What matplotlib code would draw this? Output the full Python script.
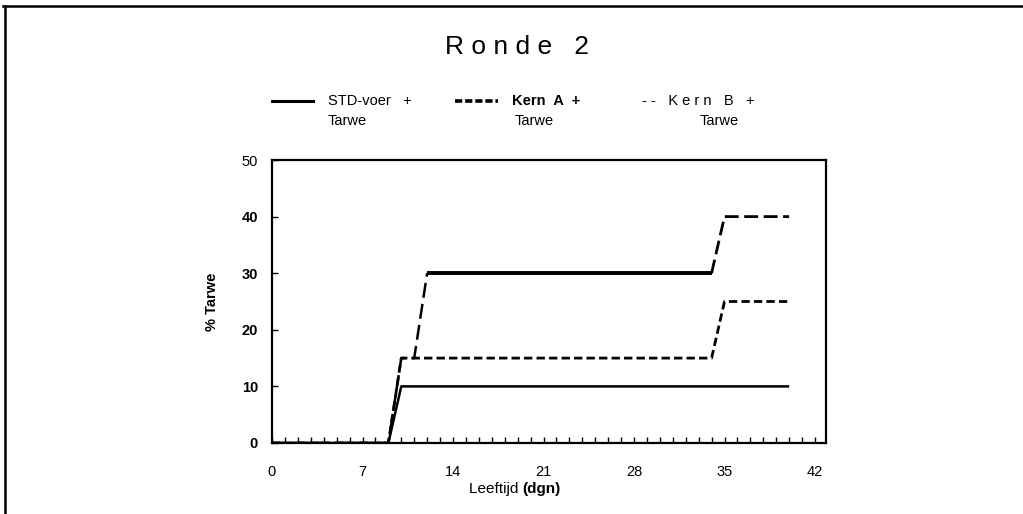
import matplotlib
matplotlib.use("Agg")
import matplotlib.pyplot as plt
from matplotlib.lines import Line2D

# Data
days_std = [0, 9, 10, 40]
std_voer = [0, 0, 10, 10]
days_a = [0, 9, 10, 34, 35, 40]
kern_a = [0, 0, 15, 15, 25, 25]
days_b = [0, 9, 10, 11, 12, 34, 35, 40]
kern_b = [0, 0, 15, 15, 30, 30, 40, 40]
xticks = [0, 7, 14, 21, 28, 35, 42]
yticks = [0, 10, 20, 30, 40, 50]

plt.rcParams['font.family'] = ['Liberation Sans', 'DejaVu Sans']

fig = plt.figure(figsize=(10.23, 5.14), dpi=100)
ax = fig.add_axes([272/1023, 71/514, (826-272)/1023, (443-160)/514])

ax.plot(days_std, std_voer, color='black', lw=1.8, solid_capstyle='butt')
ax.plot(days_a, kern_a, color='black', lw=2.0, dashes=(3, 1.5))
# Kern B: dashed rises, solid plateau at 30
ax.plot(days_b[:5], kern_b[:5], color='black', lw=1.8, dashes=(6, 2.5))
ax.plot(days_b[4:6], kern_b[4:6], color='black', lw=2.8, solid_capstyle='butt')
ax.plot(days_b[5:], kern_b[5:], color='black', lw=2.0, dashes=(5, 2))

ax.set_xlim(0, 42.85)
ax.set_ylim(0, 50)
ax.set_xticks(xticks)
ax.set_xticks(range(0, 43), minor=True)
ax.set_yticks(yticks)
ax.set_xticklabels([str(t) for t in xticks], fontsize=10.5)
ax.set_yticklabels([str(t) for t in yticks], fontsize=10.5)
for lbl in ax.get_yticklabels():
    if lbl.get_text() != '50':
        lbl.set_fontweight('bold')
ax.tick_params(axis='both', which='both', direction='in', length=4, width=1)
ax.tick_params(axis='y', which='major', pad=10)
ax.tick_params(axis='x', which='major', pad=16)
for s in ax.spines.values():
    s.set_linewidth(1.6)

ax.set_ylabel('% Tarwe', fontsize=10.5, fontweight='bold', labelpad=16)
fig.text(0.5105, 0.048, 'Leeftijd ', ha='right', va='center', fontsize=11)
fig.text(0.5105, 0.048, '(dgn)', ha='left', va='center', fontsize=11, fontweight='bold')

# Title
fig.text(0.505, 0.908, 'R o n d e   2', ha='center', va='center', fontsize=19)

# Legend (manual)
def ly(y):
    return (514 - y) / 514
def lx(x):
    return x / 1023
fig.add_artist(Line2D([lx(272), lx(313)], [ly(101), ly(101)], color='black', lw=2.2, transform=fig.transFigure))
fig.add_artist(Line2D([lx(455), lx(498)], [ly(101), ly(101)], color='black', lw=2.6, dashes=(2, 0.8), transform=fig.transFigure))
fig.text(lx(328), ly(101), 'STD-voer   +', ha='left', va='center', fontsize=10.5)
fig.text(lx(328), ly(121), 'Tarwe', ha='left', va='center', fontsize=10.5)
fig.text(lx(512), ly(101), 'Kern  A  +', ha='left', va='center', fontsize=10.5, fontweight='bold')
fig.text(lx(515), ly(121), 'Tarwe', ha='left', va='center', fontsize=10.5)
fig.text(lx(642), ly(101), '- -   K e r n   B   +', ha='left', va='center', fontsize=10.5)
fig.text(lx(700), ly(121), 'Tarwe', ha='left', va='center', fontsize=10.5)

# Figure frame (top and left)
fig.add_artist(Line2D([lx(3), lx(1022)], [ly(6), ly(6)], color='black', lw=1.8, transform=fig.transFigure))
fig.add_artist(Line2D([lx(5), lx(5)], [ly(6), ly(514)], color='black', lw=1.8, transform=fig.transFigure))

fig.savefig('out.png', dpi=100)
